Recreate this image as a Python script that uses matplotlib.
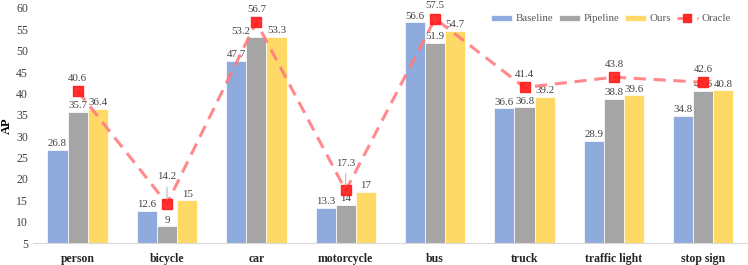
import numpy as np
import matplotlib.pyplot as plt

plt.rcParams['font.family'] = ['Liberation Serif', 'DejaVu Serif']

categories = ['person', 'bicycle', 'car', 'motorcycle', 'bus', 'truck', 'traffic light', 'stop sign']
baseline = [26.8, 12.6, 47.7, 13.3, 56.6, 36.6, 28.9, 34.8]
pipeline = [35.7, 9, 53.2, 14, 51.9, 36.8, 38.8, 40.6]
ours = [36.4, 15, 53.3, 17, 54.7, 39.2, 39.6, 40.8]
oracle = [40.6, 14.2, 56.7, 17.3, 57.5, 41.4, 43.8, 42.6]

fig = plt.figure(figsize=(7.48, 2.65), dpi=100)
ax = fig.add_axes([0.044, 0.083, 0.956, 0.887])

x = np.arange(len(categories))
w = 0.225
series = [('Baseline', baseline, '#8FAADC'),
          ('Pipeline', pipeline, '#A5A5A5'),
          ('Ours', ours, '#FFD966')]
for i, (name, vals, col) in enumerate(series):
    pos = x + (i - 1) * w
    ax.bar(pos, [v - 5 for v in vals], w, bottom=5, color=col, label=name,
           edgecolor='white', linewidth=0.5)
    for j, (p, v) in enumerate(zip(pos, vals)):
        dx = -11 if (i == 1 and j == 2) else 0  # car pipeline label sits left, as in original
        ax.annotate(f'{v:g}', (p, v), xytext=(dx, 1), textcoords='offset points',
                    ha='center', va='bottom', fontsize=7.8, color='#404040')

ax.plot(x, oracle, color='#FF7C80', alpha=0.9, linestyle=(0, (4, 2.5)), linewidth=2.2,
        marker='s', markersize=7.5, markerfacecolor='#FF1A1A', markeredgecolor='#FF1A1A',
        label='Oracle', zorder=3)

# oracle labels, a few pushed higher as in the original
offsets = {1: 16, 3: 16, 2: 6}
for i, v in enumerate(oracle):
    dy = offsets.get(i, 6)
    ax.annotate(f'{v:g}', (x[i], v), xytext=(0, dy), textcoords='offset points',
                ha='center', va='bottom', fontsize=7.8, color='#404040',
                arrowprops=dict(arrowstyle='-', color='#909090', lw=0.5) if i in (1, 3) else None)

ax.set_xlim(-0.5, len(categories) - 0.5)
ax.set_ylim(5, 60)
ax.set_yticks(range(5, 61, 5))
ax.set_xticks(x)
ax.set_xticklabels(categories, fontweight='bold', fontsize=8.5)
ax.tick_params(axis='both', length=0, labelsize=8.5, colors='#404040')
for t in ax.get_xticklabels():
    t.set_color('#262626')
ax.tick_params(axis='x', pad=7)
ax.set_ylabel('AP', fontweight='bold', fontsize=9, labelpad=2)
for s in ['top', 'right', 'left']:
    ax.spines[s].set_visible(False)
ax.spines['bottom'].set_color('#D9D9D9')

h, l = ax.get_legend_handles_labels()
order = [1, 2, 3, 0]
ax.legend([h[k] for k in order], [l[k] for k in order], loc='upper right', ncol=4,
          frameon=False, fontsize=7.8, bbox_to_anchor=(0.985, 1.0), borderaxespad=0.2,
          handlelength=2.0, handleheight=0.5, columnspacing=0.5, handletextpad=0.3,
          markerscale=0.7, labelcolor='#595959')

fig.savefig('out.png', dpi=100)
